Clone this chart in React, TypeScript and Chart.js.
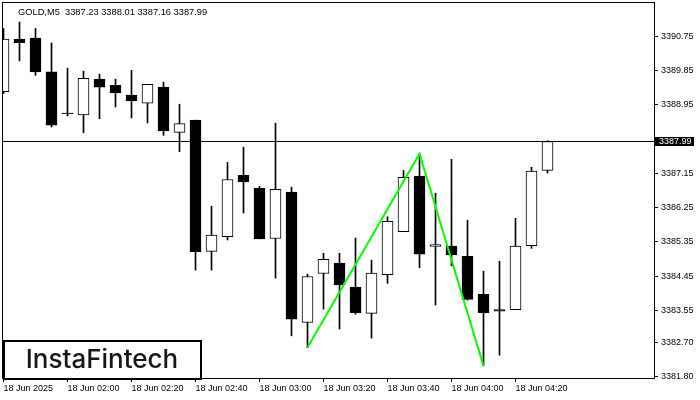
import React, { useEffect, useRef } from "react";
import { Chart, registerables } from "chart.js";

Chart.register(...registerables);

const symbolTitle = "GOLD,M5  3387.23 3388.01 3387.16 3387.99";
const logoText = "InstaFintech";

// OHLC of 35 M5 candles, 18 Jun 01:40 .. 04:30
const opens = [
  3389.30, 3390.68, 3390.71, 3389.82, 3388.74, 3388.69, 3389.63, 3389.47, 3389.21, 3389.00,
  3389.42, 3388.23, 3388.55, 3385.10, 3385.49, 3387.10, 3386.76, 3385.44, 3386.66, 3383.23,
  3384.52, 3384.79, 3384.16, 3383.47, 3384.49, 3385.62, 3387.08, 3385.23, 3385.24, 3384.97,
  3383.97, 3383.57, 3383.57, 3385.25, 3387.23,
];
const highs = [
  3390.96, 3391.13, 3390.96, 3390.58, 3389.92, 3389.84, 3389.76, 3389.63, 3389.86, 3389.49,
  3389.55, 3388.97, 3388.55, 3386.29, 3387.44, 3387.84, 3386.81, 3388.47, 3386.79, 3384.50,
  3385.05, 3385.05, 3385.45, 3384.87, 3386.01, 3387.23, 3387.67, 3386.63, 3387.52, 3385.92,
  3384.58, 3384.84, 3385.97, 3387.31, 3388.01,
];
const lows = [
  3389.25, 3390.11, 3389.73, 3388.37, 3388.66, 3388.22, 3388.59, 3388.90, 3388.61, 3388.48,
  3388.15, 3387.72, 3384.61, 3384.61, 3385.40, 3386.11, 3385.43, 3384.40, 3382.88, 3382.57,
  3383.58, 3383.06, 3383.45, 3382.82, 3384.26, 3385.62, 3384.67, 3383.69, 3384.72, 3383.82,
  3382.09, 3382.37, 3383.57, 3385.18, 3387.16,
];
const closes = [
  3390.68, 3390.59, 3389.82, 3388.42, 3388.72, 3389.65, 3389.42, 3389.27, 3389.06, 3389.49,
  3388.27, 3388.46, 3385.09, 3385.53, 3386.99, 3386.93, 3385.43, 3386.73, 3383.32, 3384.44,
  3384.89, 3384.22, 3383.48, 3384.53, 3385.89, 3387.05, 3385.03, 3385.28, 3385.01, 3383.84,
  3383.48, 3383.53, 3385.24, 3387.21, 3387.99,
];

const xTickIdx = [0, 4, 8, 12, 16, 20, 24, 28, 32];
const xTickLabels = [
  "18 Jun 2025", "18 Jun 02:00", "18 Jun 02:20", "18 Jun 02:40", "18 Jun 03:00",
  "18 Jun 03:20", "18 Jun 03:40", "18 Jun 04:00", "18 Jun 04:20",
];
const yTickValues = [
  3390.75, 3389.85, 3388.95, 3387.15, 3386.25, 3385.35, 3384.45, 3383.55, 3382.70, 3381.80,
];
const currentPrice = 3387.99;

// double-bottom pattern (green line)
const patternIdx = [19, 26, 30];
const patternVal = [3382.57, 3387.67, 3382.09];

const xMin = -0.09375;
const xMax = 40.656;
const yMin = 3381.771;
const yMax = 3391.658;

const candleIdx = opens.map((_, i) => i);

const overlayPlugin = {
  id: "overlay",
  afterDatasetsDraw(chart: any) {
    const { ctx, chartArea: a, scales } = chart;
    ctx.save();
    // frame
    ctx.strokeStyle = "#000";
    ctx.lineWidth = 1;
    ctx.strokeRect(a.left + 0.5, a.top + 0.5, a.right - a.left, a.bottom - a.top);

    // title
    ctx.fillStyle = "#000";
    ctx.font = "9.3px 'Liberation Sans', Arial, sans-serif";
    ctx.textBaseline = "middle";
    ctx.textAlign = "left";
    ctx.fillText(symbolTitle, 18, 12);

    // current price label
    const py = Math.round(scales.y.getPixelForValue(currentPrice));
    ctx.fillStyle = "#000";
    ctx.fillRect(a.right + 1, py - 4, 39, 9);
    ctx.fillStyle = "#fff";
    ctx.font = "9px 'Liberation Sans', Arial, sans-serif";
    ctx.fillText(currentPrice.toFixed(2), a.right + 5, py + 0.5);

    // logo
    ctx.fillStyle = "#fff";
    ctx.fillRect(3, 341, 198, 38);
    ctx.strokeStyle = "#000";
    ctx.lineWidth = 2;
    ctx.strokeRect(4, 341, 197, 38);
    ctx.fillStyle = "#161616";
    ctx.font = "500 26px Inter, Lato, 'Noto Sans', sans-serif";
    ctx.textAlign = "center";
    ctx.textBaseline = "alphabetic";
    ctx.fillText(logoText, 102, 368);
    ctx.restore();
  },
};

export default function App() {
  const ref = useRef<HTMLCanvasElement>(null);

  useEffect(() => {
    document.body.style.margin = "0";
    const wickData = candleIdx.map((i) => ({ x: i, y: [lows[i], highs[i]] }));
    const bodyData = candleIdx.map((i) => ({ x: i, y: [opens[i], closes[i]] }));
    const bodyColors = candleIdx.map((i) => (closes[i] >= opens[i] ? "#ffffff" : "#000000"));
    const patternData = patternIdx.map((x, k) => ({ x, y: patternVal[k] }));
    const priceData = [
      { x: xMin, y: currentPrice },
      { x: xMax, y: currentPrice },
    ];

    Chart.defaults.font.family = "'Liberation Sans', Arial, sans-serif";
    Chart.defaults.font.size = 9;
    Chart.defaults.color = "#000";

    const chart = new Chart(ref.current as HTMLCanvasElement, {
      type: "bar",
      data: {
        datasets: [
          {
            type: "bar",
            data: wickData as any,
            backgroundColor: "#000",
            borderWidth: 0,
            barThickness: 1,
            grouped: false,
            order: 2,
          } as any,
          {
            type: "bar",
            data: bodyData as any,
            backgroundColor: bodyColors,
            borderColor: "#000",
            borderWidth: 1,
            borderSkipped: false,
            barThickness: 11,
            grouped: false,
            order: 1,
          } as any,
          {
            type: "line",
            data: patternData as any,
            borderColor: "#00ff00",
            borderWidth: 2,
            pointRadius: 0,
            order: 0,
          } as any,
          {
            type: "line",
            data: priceData as any,
            borderColor: "#000",
            borderWidth: 1,
            pointRadius: 0,
            order: 3,
          } as any,
        ],
      },
      options: {
        responsive: false,
        animation: false,
        layout: { padding: { left: 2, top: 2, right: 0, bottom: 0 } },
        plugins: { legend: { display: false }, tooltip: { enabled: false } },
        scales: {
          x: {
            type: "linear",
            min: xMin,
            max: xMax,
            offset: false,
            grid: {
              offset: false,
              drawOnChartArea: false,
              drawTicks: true,
              tickLength: 4,
              color: "#000",
            },
            border: { display: false },
            ticks: {
              autoSkip: false,
              maxRotation: 0,
              align: "start",
              padding: 1,
              color: "#000",
              callback: (v: any) => {
                const k = xTickIdx.indexOf(Number(v));
                return k >= 0 ? xTickLabels[k] : "";
              },
            },
            afterBuildTicks: (axis: any) => {
              axis.ticks = xTickIdx.map((v) => ({ value: v }));
            },
            afterFit: (axis: any) => {
              axis.height = 22;
              axis.paddingLeft = 0;
              axis.paddingRight = 0;
            },
          } as any,
          y: {
            type: "linear",
            position: "right",
            min: yMin,
            max: yMax,
            grid: {
              drawOnChartArea: false,
              drawTicks: true,
              tickLength: 4,
              color: "#000",
            },
            border: { display: false },
            ticks: {
              padding: 3,
              color: "#000",
              callback: (v: any) => Number(v).toFixed(2),
            },
            afterBuildTicks: (axis: any) => {
              axis.ticks = yTickValues.map((v) => ({ value: v }));
            },
            afterFit: (axis: any) => {
              axis.width = 46;
              axis.paddingTop = 0;
              axis.paddingBottom = 0;
            },
          } as any,
        },
      },
      plugins: [overlayPlugin],
    });
    return () => chart.destroy();
  }, []);

  return (
    <div style={{ position: "absolute", left: 0, top: 0, width: 700, height: 400, background: "#fff" }}>
      <canvas ref={ref} width={700} height={400} style={{ display: "block" }} />
    </div>
  );
}
